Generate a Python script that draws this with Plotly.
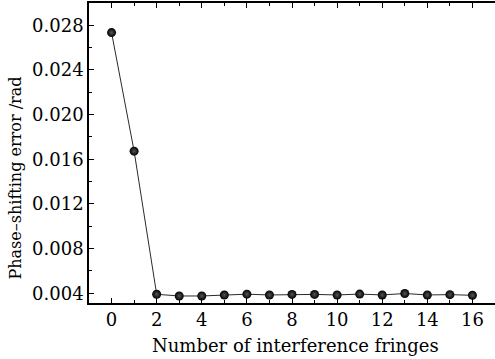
import plotly.graph_objects as go

# Phase-shifting error versus number of interference fringes
fringes = list(range(17))
phase_error = [0.02735, 0.01673, 0.00391, 0.00376, 0.00376, 0.00385, 0.00392,
               0.00385, 0.00390, 0.00390, 0.00385, 0.00393, 0.00385, 0.00398,
               0.00385, 0.00388, 0.00382]

x_ticks = [0, 2, 4, 6, 8, 10, 12, 14, 16]
y_ticks = [0.004, 0.008, 0.012, 0.016, 0.020, 0.024, 0.028]
y_tick_text = ["0.004", "0.008", "0.012", "0.016", "0.020", "0.024", "0.028"]

x_title = "Number of interference fringes"
y_title = "Phase–shifting error /rad"

FONT = "DejaVu Serif"

fig = go.Figure()
# connecting line with shaded black balls
fig.add_trace(go.Scatter(
    x=fringes, y=phase_error, mode="lines+markers",
    line=dict(color="#2a2a2a", width=1),
    marker=dict(size=9, color="#000000",
                gradient=dict(type="radial", color="#555555"),
                line=dict(width=0)),
    showlegend=False, cliponaxis=False,
))

fig.update_xaxes(
    range=[-1, 17], tickvals=x_ticks, ticktext=[str(v) for v in x_ticks],
    ticks="inside", ticklen=5, tickwidth=1, tickcolor="#000",
    minor=dict(dtick=1, tick0=0, ticks="inside", ticklen=3, tickcolor="#000"),
    showline=True, linecolor="#000", linewidth=1.5, mirror="allticks",
    showgrid=False, zeroline=False,
    tickfont=dict(family=FONT, size=18, color="#000"),
)
fig.update_yaxes(
    range=[0.00313, 0.0300], tickvals=y_ticks, ticktext=y_tick_text,
    ticks="inside", ticklen=5, tickwidth=1, tickcolor="#000",
    minor=dict(dtick=0.002, tick0=0.004, ticks="inside", ticklen=3, tickcolor="#000"),
    showline=True, linecolor="#000", linewidth=1.5, mirror=False,
    showgrid=False, zeroline=False,
    tickfont=dict(family=FONT, size=18, color="#000"),
)

# axis titles
fig.add_annotation(
    text=x_title, xref="paper", yref="paper", x=0.508, y=-0.143,
    xanchor="center", yanchor="middle", showarrow=False,
    font=dict(family=FONT, size=18, color="#000"),
)
fig.add_annotation(
    text=y_title, xref="paper", yref="paper", x=-0.18, y=0.418,
    xanchor="center", yanchor="middle", textangle=-90, showarrow=False,
    font=dict(family=FONT, size=16, color="#000"),
)

fig.update_layout(
    width=495, height=359,
    margin=dict(l=89, r=0, t=3, b=56),
    paper_bgcolor="white", plot_bgcolor="white",
)

fig.write_html("out.html")
